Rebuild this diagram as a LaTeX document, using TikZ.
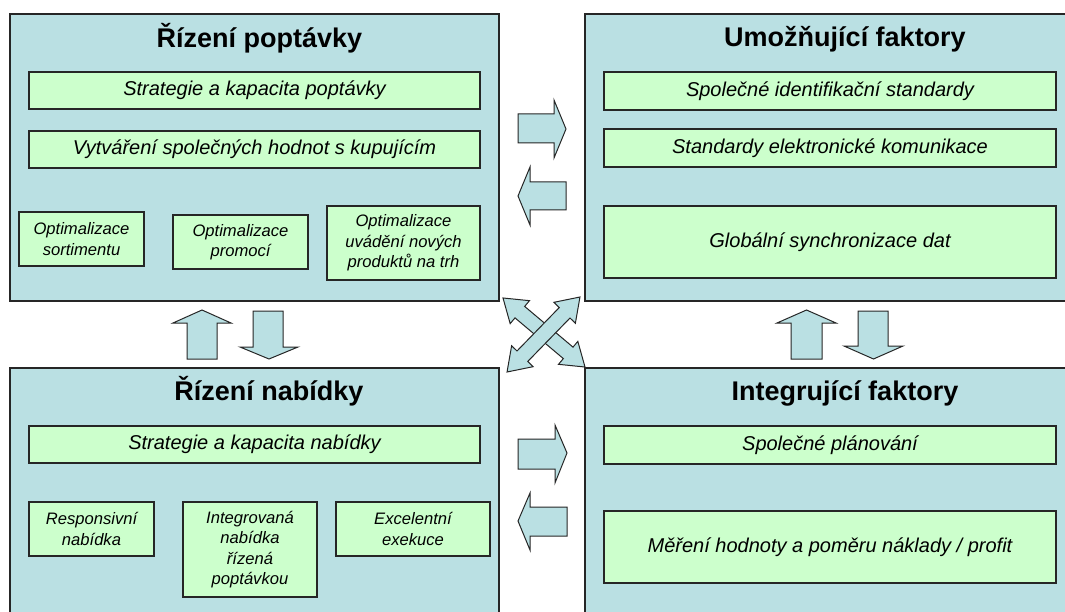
\documentclass[tikz,border=0pt]{standalone}
\usepackage{fontspec}
\setmainfont{Liberation Sans}
\definecolor{outerc}{RGB}{186,224,227}
\definecolor{innerc}{RGB}{204,255,204}
\tikzset{
  outerbox/.style={draw=black!85, line width=1.1pt, fill=outerc, inner sep=0pt},
  innerbox/.style={draw=black!85, line width=1.1pt, fill=innerc, inner sep=0pt, align=center,
    font=\itshape\fontsize{20}{24}\selectfont},
  smallbox/.style={innerbox, font=\itshape\fontsize{16.6}{20.3}\selectfont},
  titletext/.style={anchor=base, inner sep=0pt, font=\bfseries\fontsize{27}{30}\selectfont},
  blockarrow/.style={draw=black!85, line width=1pt, fill=outerc, line join=miter},
}
\begin{document}
\begin{tikzpicture}[x=1pt,y=-1pt]
\useasboundingbox (0,0) rectangle (1065,612);
% outer boxes
\node[outerbox, minimum width=489, minimum height=287] (tl) at (254.5,157.5) {};
\node[outerbox, minimum width=490, minimum height=287] (tr) at (830,157.5) {};
\node[outerbox, minimum width=489, minimum height=282] (bl) at (254.5,509) {};
\node[outerbox, minimum width=490, minimum height=282] (br) at (830,509) {};
% titles
\node[titletext] (tlt) at (259.5,48) {Řízení poptávky};
\node[titletext] (trt) at (845,47) {Umožňující faktory};
\node[titletext] (blt) at (269,400) {Řízení nabídky};
\node[titletext] (brt) at (845,400) {Integrující faktory};
% inner boxes top-left
\node[innerbox, minimum width=451, minimum height=37] (tl1) at (254.5,90.5) {Strategie a kapacita poptávky};
\node[innerbox, minimum width=451, minimum height=37] (tl2) at (254.5,149.5) {Vytváření společných hodnot s kupujícím};
\node[smallbox, minimum width=125, minimum height=54] (tl3) at (81.5,239) {Optimalizace\\sortimentu};
\node[smallbox, minimum width=135, minimum height=54] (tl4) at (240.5,242) {Optimalizace\\promocí};
\node[smallbox, minimum width=153, minimum height=74] (tl5) at (403.5,243) {Optimalizace\\uvádění nových\\produktů na trh};
% inner boxes top-right
\node[innerbox, minimum width=452, minimum height=38] (tr1) at (830,91) {Společné identifikační standardy};
\node[innerbox, minimum width=452, minimum height=38] (tr2) at (830,148) {Standardy elektronické komunikace};
\node[innerbox, minimum width=452, minimum height=72] (tr3) at (830,242) {Globální synchronizace dat};
% inner boxes bottom-left
\node[innerbox, minimum width=451, minimum height=37] (bl1) at (254.5,444.5) {Strategie a kapacita nabídky};
\node[smallbox, minimum width=125, minimum height=54] (bl2) at (91.5,529) {Responsivní\\nabídka};
\node[smallbox, minimum width=134, minimum height=95] (bl3) at (250,549.5) {Integrovaná\\nabídka\\řízená\\poptávkou};
\node[smallbox, minimum width=154, minimum height=54] (bl4) at (413,529) {Excelentní\\exekuce};
% inner boxes bottom-right
\node[innerbox, minimum width=452, minimum height=38] (br1) at (830,445) {Společné plánování};
\node[innerbox, minimum width=452, minimum height=72] (br2) at (830,547) {Měření hodnoty a poměru náklady / profit};
% horizontal block arrows (top)
\draw[blockarrow] (518,114) -- (554,114) -- (554,100) -- (566,129) -- (554,158) -- (554,143) -- (518,143) -- cycle;
\draw[blockarrow] (566,182) -- (530,182) -- (530,167) -- (518,196) -- (530,225) -- (530,210) -- (566,210) -- cycle;
% horizontal block arrows (bottom)
\draw[blockarrow] (518,439) -- (555,439) -- (555,425) -- (567,453) -- (555,483) -- (555,469) -- (518,469) -- cycle;
\draw[blockarrow] (567,507) -- (530,507) -- (530,493) -- (518,521) -- (530,550) -- (530,536) -- (567,536) -- cycle;
% vertical block arrows (left)
\draw[blockarrow] (187,359) -- (187,323) -- (173,323) -- (202,310) -- (231,323) -- (217,323) -- (217,359) -- cycle;
\draw[blockarrow] (253,311) -- (283,311) -- (283,347) -- (298,347) -- (269,359) -- (240,347) -- (253,347) -- cycle;
% vertical block arrows (right)
\draw[blockarrow] (791,359) -- (791,323) -- (777,323) -- (806.5,310) -- (836,323) -- (822,323) -- (822,359) -- cycle;
\draw[blockarrow] (858,311) -- (888,311) -- (888,346) -- (903,346) -- (873.5,359) -- (844,346) -- (858,346) -- cycle;
% crossed double arrows
\begin{scope}[shift={(544,332.5)}, rotate=-40.1]
\draw[blockarrow] (-53.6,0) -- (-31.6,15) -- (-31.6,7.5) -- (31.6,7.5) -- (31.6,15) -- (53.6,0)
  -- (31.6,-15) -- (31.6,-7.5) -- (-31.6,-7.5) -- (-31.6,-15) -- cycle;
\end{scope}
\begin{scope}[shift={(543.5,334.5)}, rotate=45.8]
\draw[blockarrow] (-52.3,0) -- (-30.3,15) -- (-30.3,7.5) -- (30.3,7.5) -- (30.3,15) -- (52.3,0)
  -- (30.3,-15) -- (30.3,-7.5) -- (-30.3,-7.5) -- (-30.3,-15) -- cycle;
\end{scope}
\end{tikzpicture}
\end{document}
